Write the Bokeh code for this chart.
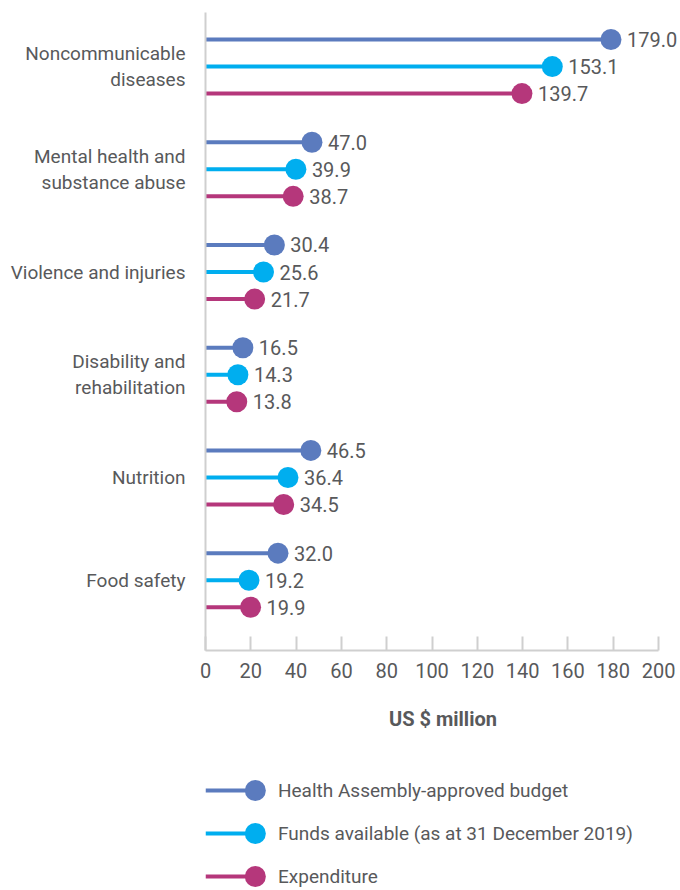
from bokeh.plotting import figure
from bokeh.models import Range1d, ColumnDataSource, LinearAxis, FixedTicker
from bokeh.layouts import column
from bokeh.embed import file_html
from bokeh.resources import INLINE
from bokeh.core.properties import value

categories = ["Noncommunicable\ndiseases", "Mental health and\nsubstance abuse",
              "Violence and injuries", "Disability and\nrehabilitation",
              "Nutrition", "Food safety"]
series_names = ["Health Assembly-approved budget",
                "Funds available (as at 31 December 2019)",
                "Expenditure"]
budget = [179.0, 47.0, 30.4, 16.5, 46.5, 32.0]
funds = [153.1, 39.9, 25.6, 14.3, 36.4, 19.2]
expenditure = [139.7, 38.7, 21.7, 13.8, 34.5, 19.9]
x_ticks = [0, 20, 40, 60, 80, 100, 120, 140, 160, 180, 200]
colors = ["#5B7BBE", "#00AEEF", "#B5377B"]

FONT = "Roboto"
TXT = "#58595B"
FS = "20px"
FS_CAT = "19px"
GROUP_STEP = 38   # vertical units between groups
ROW_STEP = 10     # vertical units between series rows
n = len(categories)
centers = [g * GROUP_STEP + ROW_STEP for g in range(n)]

p = figure(width=680, height=735, output_backend="svg", toolbar_location=None,
           x_range=Range1d(0, 209.7),
           y_range=Range1d(centers[-1] + ROW_STEP + 16, -ROW_STEP),
           frame_width=475, frame_height=638,
           min_border_left=205, min_border_right=0, min_border_top=12,
           min_border_bottom=85, x_axis_location=None, y_axis_location=None)
p.outline_line_color = None
p.xgrid.visible = False
p.ygrid.visible = False
p.background_fill_color = "white"

xaxis = LinearAxis(ticker=FixedTicker(ticks=x_ticks), axis_label="US $ million",
                   bounds=(0, 200))
xaxis.axis_line_color = "#cfcfcf"
xaxis.axis_line_width = 2
xaxis.major_tick_line_color = "#cfcfcf"
xaxis.major_tick_line_width = 2
xaxis.major_tick_in = 14
xaxis.major_tick_out = 0
xaxis.minor_tick_line_color = None
xaxis.major_label_text_font = FONT
xaxis.major_label_text_font_size = FS
xaxis.major_label_text_color = TXT
xaxis.major_label_standoff = 12
xaxis.axis_label_text_font = FONT
xaxis.axis_label_text_font_size = FS
xaxis.axis_label_text_font_style = "bold"
xaxis.axis_label_text_color = TXT
xaxis.axis_label_standoff = 26
p.add_layout(xaxis, "below")

yaxis = LinearAxis(ticker=FixedTicker(ticks=centers),
                   major_label_overrides={c: cat for c, cat in zip(centers, categories)})
yaxis.axis_line_color = "#cfcfcf"
yaxis.axis_line_width = 2
yaxis.major_tick_line_color = None
yaxis.minor_tick_line_color = None
yaxis.major_tick_in = 0
yaxis.major_tick_out = 0
yaxis.major_label_standoff = 20
yaxis.major_label_text_font = FONT
yaxis.major_label_text_font_size = FS_CAT
yaxis.major_label_text_color = TXT
yaxis.major_label_text_align = "right"
yaxis.major_label_text_line_height = 1.15
p.add_layout(yaxis, "left")

for s, vals in enumerate([budget, funds, expenditure]):
    ys = [c + (s - 1) * ROW_STEP for c in centers]
    src = ColumnDataSource(dict(x=vals, y=ys, zero=[0] * n,
                                lab=["%.1f" % v for v in vals]))
    p.segment(x0="zero", x1="x", y0="y", y1="y", source=src,
              line_color=colors[s], line_width=4)
    p.scatter(x="x", y="y", source=src, size=21, fill_color=colors[s],
              line_color=None)
    p.text(x="x", y="y", text="lab", source=src, x_offset=16,
           text_baseline="middle", text_align="left", text_font=value(FONT),
           text_font_size=FS, text_color=TXT)

# legend figure (shares the x scale of the chart)
lg = figure(width=680, height=155, output_backend="svg", toolbar_location=None,
            x_range=p.x_range, y_range=Range1d(155, 0),
            frame_width=475, frame_height=155,
            min_border_left=205, min_border_right=0, min_border_top=0,
            min_border_bottom=0, x_axis_location=None, y_axis_location=None)
lg.outline_line_color = None
lg.xgrid.visible = False
lg.ygrid.visible = False
for i, name in enumerate(series_names):
    yy = 55 + 43 * i
    lg.segment(x0=[0], x1=[22], y0=[yy], y1=[yy],
               line_color=colors[i], line_width=4)
    lg.scatter(x=[22], y=[yy], size=21, fill_color=colors[i], line_color=None)
    lg.text(x=[32], y=[yy], text=[name], text_baseline="middle",
            text_font=value(FONT), text_font_size=FS_CAT, text_color=TXT)

layout = column(p, lg, spacing=0)
open("out.html", "w").write(file_html(layout, INLINE))
